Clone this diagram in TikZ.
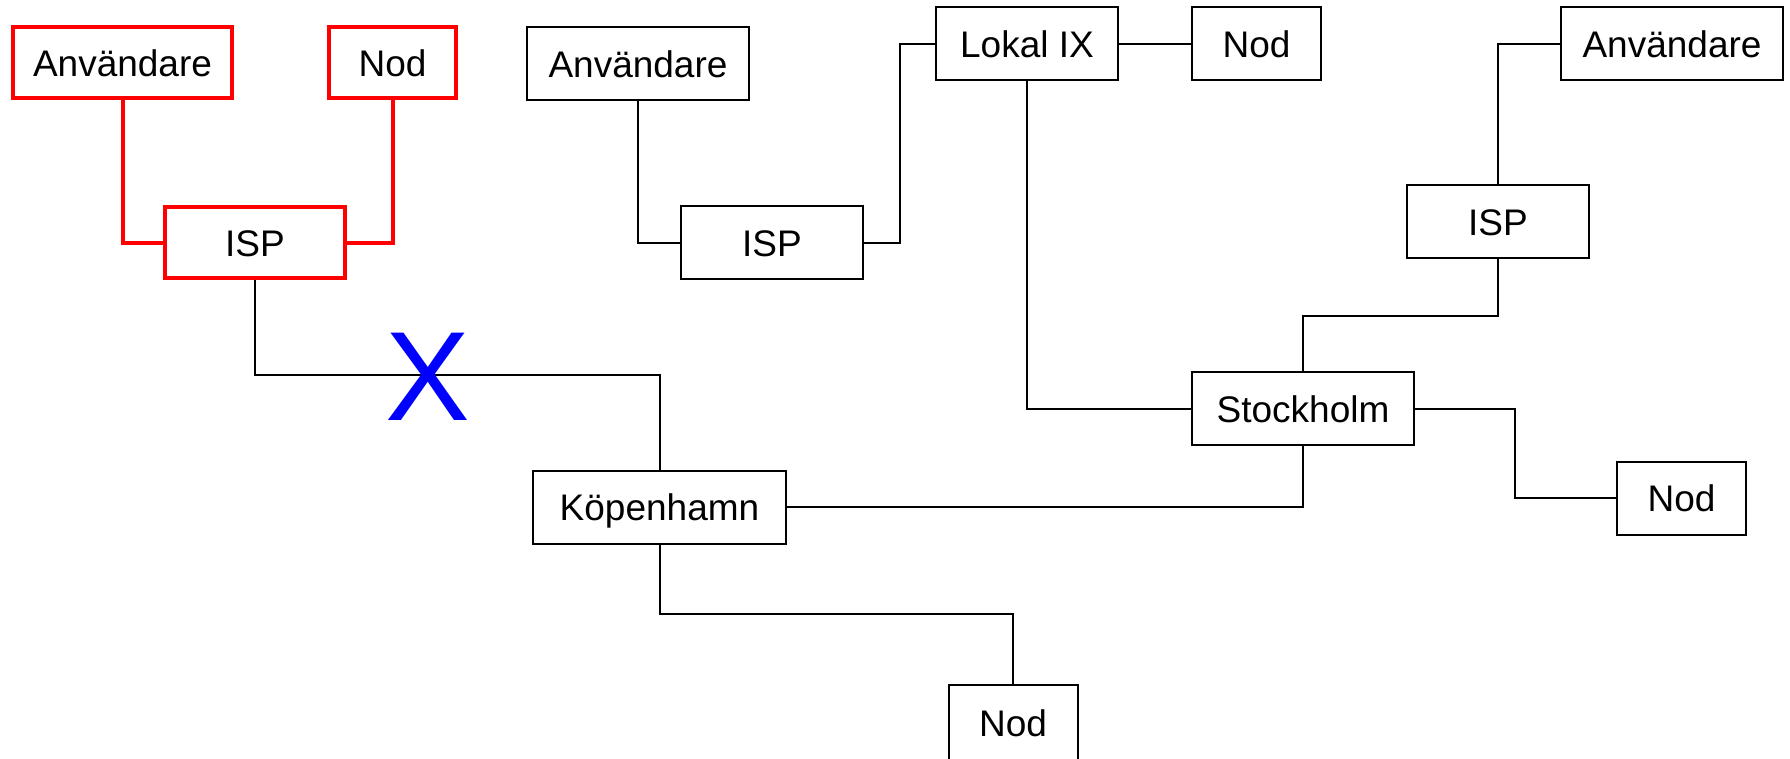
\documentclass[tikz,border=0pt]{standalone}
\usepackage{fontspec}
\setmainfont{Liberation Sans}
\begin{document}
\begin{tikzpicture}[x=1pt,y=-1pt,
  box/.style={draw=black,line width=2pt,inner sep=0pt,minimum height=73pt,
    text height=27pt,text depth=0pt,font=\fontsize{37}{40}\selectfont},
  redbox/.style={box,draw=red,line width=4pt,minimum height=71pt},
  wsmall/.style={minimum width=129pt},
  wmid/.style={minimum width=182pt},
  wlarge/.style={minimum width=222pt},
  wxl/.style={minimum width=253pt},
  link/.style={draw=black,line width=2pt},
  redlink/.style={draw=red,line width=4pt,line join=miter},
  cross/.style={text=blue,font=\fontsize{127}{130}\selectfont,inner sep=0pt,text height=91pt,text depth=0pt}]
\useasboundingbox[fill=white] (0,0) rectangle (1790,758);
% nodes
\node[redbox,minimum width=219pt] (rA) at (122.5,62.5) {Användare};
\node[redbox,minimum width=127pt] (rN) at (392.5,62.5) {Nod};
\node[redbox,minimum width=180pt] (rI) at (255,242.5) {ISP};
\node[box,wlarge] (A2) at (638,63.5) {Användare};
\node[box,wmid] (I2) at (772,242.5) {ISP};
\node[box,wmid] (L) at (1027,43.5) {Lokal IX};
\node[box,wsmall] (N1) at (1256.5,43.5) {Nod};
\node[box,wlarge] (A3) at (1672,43.5) {Användare};
\node[box,wmid] (I3) at (1498,221.5) {ISP};
\node[box,wlarge] (S) at (1303,408.5) {Stockholm};
\node[box,wsmall] (N2) at (1681.5,498) {Nod};
\node[box,wxl] (K) at (659.5,507) {Köpenhamn};
\node[box,wsmall,minimum height=77pt] (N3) at (1013,723) {Nod};
% connectors
\draw[redlink] (rA.south) |- (rI.west);
\draw[redlink] (rN.south) |- (rI.east);
\coordinate (j1) at (255,375);
\coordinate (j2) at (659.5,375);
\draw[link] (rI.south) -- (j1) -- (j2) -- (K.north);
\draw[link] (A2.south) |- (I2.west);
\coordinate (j3) at (900,242.5);
\coordinate (j4) at (900,43.5);
\draw[link] (I2.east) -- (j3) -- (j4) -- (L.west);
\draw[link] (L.east) -- (N1.west);
\draw[link] (L.south) |- (S.west);
\draw[link] (A3.west) -| (I3.north);
\coordinate (j5) at (1498,316);
\coordinate (j6) at (1303,316);
\draw[link] (I3.south) -- (j5) -- (j6) -- (S.north);
\coordinate (j7) at (1515,408.5);
\coordinate (j8) at (1515,498);
\draw[link] (S.east) -- (j7) -- (j8) -- (N2.west);
\draw[link] (S.south) |- (K.east);
\coordinate (j9) at (659.5,614);
\coordinate (j10) at (1013,614);
\draw[link] (K.south) -- (j9) -- (j10) -- (N3.north);
\node[cross] (X) at (427.5,375) {X};
\end{tikzpicture}
\end{document}
